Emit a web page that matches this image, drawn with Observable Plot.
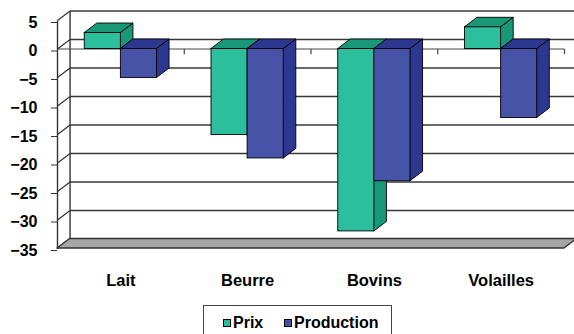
<!DOCTYPE html>
<html><head><meta charset="utf-8">
<script src="https://cdn.jsdelivr.net/npm/d3@7"></script>
<script src="https://cdn.jsdelivr.net/npm/@observablehq/plot@0.6"></script>
<style>
body{margin:0;background:#fff;font-family:"Liberation Sans",Arial,sans-serif;}
#wrap{position:relative;width:574px;height:334px;overflow:hidden;}
#legend{position:absolute;left:203px;top:305px;width:189px;height:40px;border:1px solid #444;box-sizing:border-box;font:bold 16px "Liberation Sans",Arial,sans-serif;color:#000;}
.item{position:absolute;top:8px;height:18px;display:flex;align-items:center;}
.sw{width:6px;height:6px;border:1px solid #000;margin-right:2px;}
</style></head><body><div id="wrap"><div id="chart"></div><div id="legend"></div></div>
<script>
const categories = ["Lait", "Beurre", "Bovins", "Volailles"];
const prix = [2.8, -15.1, -32.0, 3.8];
const production = [-5.1, -19.2, -23.2, -12.1];
const seriesNames = ["Prix", "Production"];
const yTicks = [5, 0, -5, -10, -15, -20, -25, -30, -35];
const colors = {
  Prix: {front: "#2bbf9d", dark: "#199878"},
  Production: {front: "#4653a7", dark: "#2c3790"}
};

const W = 574, H = 300;
const DX = 0.099, DY = 1.67;  // 3D depth in scale units
const BW = 0.285;             // bar width in category units
const yMin = -35, yMax = 5, xMin = -0.5, xMax = 3.5;

const bars = [];
categories.forEach((c, i) => {
  [prix, production].forEach((arr, s) => {
    const v = arr[i];
    const x1 = s === 0 ? i - BW : i;
    bars.push({id: c + s, cat: c, series: seriesNames[s], v, x1, x2: x1 + BW,
      top: Math.max(v, 0), bot: Math.min(v, 0)});
  });
});
const sidePts = bars.flatMap(b => [
  {id: b.id, series: b.series, x: b.x2, y1: b.bot, y2: b.top},
  {id: b.id, series: b.series, x: b.x2 + DX, y1: b.bot + DY, y2: b.top + DY}
]);
const topPts = bars.flatMap(b => [
  {id: b.id, series: b.series, y: b.top, x1: b.x1, x2: b.x2},
  {id: b.id, series: b.series, y: b.top + DY, x1: b.x1 + DX, x2: b.x2 + DX}
]);

const barMarks = seriesNames.flatMap(s => [
  Plot.areaY(sidePts.filter(d => d.series === s), {x: "x", y1: "y1", y2: "y2", z: "id", fill: colors[s].dark, stroke: "#000", strokeWidth: 0.9}),
  Plot.areaX(topPts.filter(d => d.series === s), {y: "y", x1: "x1", x2: "x2", z: "id", fill: colors[s].dark, stroke: "#000", strokeWidth: 0.9}),
  Plot.rect(bars.filter(d => d.series === s), {x1: "x1", x2: "x2", y1: "bot", y2: "top", fill: colors[s].front, stroke: "#000", strokeWidth: 0.9})
]);

const chart = Plot.plot({
  width: W, height: H,
  marginLeft: 57, marginRight: 10, marginTop: 20, marginBottom: 52,
  style: {fontFamily: '"Liberation Sans", Arial, sans-serif', fontSize: "16px", fontWeight: "bold", color: "#000", background: "#fff"},
  x: {domain: [xMin, xMax]},
  y: {domain: [yMin, yMax]},
  marks: [
    // back wall gridlines
    Plot.link(yTicks, {x1: () => xMin + DX, x2: () => xMax + DX, y1: d => d + DY, y2: d => d + DY, stroke: "#383838", strokeWidth: 1.4}),
    // left wall diagonals and edges
    Plot.link(yTicks, {x1: () => xMin, x2: () => xMin + DX, y1: d => d, y2: d => d + DY, stroke: "#333", strokeWidth: 1.2}),
    Plot.link([0], {x1: () => xMin + DX, x2: () => xMin + DX, y1: () => yMin + DY, y2: () => yMax + DY, stroke: "#333", strokeWidth: 1.4}),
    Plot.link([0], {x1: () => xMin, x2: () => xMin, y1: () => yMin, y2: () => yMax, stroke: "#333", strokeWidth: 1.4}),
    // floor
    Plot.areaX([{y: yMin, x1: xMin, x2: xMax}, {y: yMin + DY, x1: xMin + DX, x2: xMax + DX}], {y: "y", x1: "x1", x2: "x2", fill: "#a6a6a6", stroke: "#333", strokeWidth: 1.5}),
    // zero category axis with ticks
    Plot.link([0], {x1: () => xMin, x2: () => xMax, y1: () => 0, y2: () => 0, stroke: "#444", strokeWidth: 1.2}),
    Plot.link([0.5, 1.5, 2.5, 3.5], {x1: d => d, x2: d => d, y1: () => 0, y2: () => -0.9, stroke: "#444", strokeWidth: 1.2}),
    ...barMarks,
    Plot.axisY({ticks: yTicks, tickSize: 6, tickPadding: 14, dy: 2, label: null, stroke: "#333"}),
    Plot.axisX({ticks: [0, 1, 2, 3], tickFormat: i => categories[i], tickSize: 0, tickPadding: 26, label: null, fontSize: 16.5})
  ]
});
document.getElementById("chart").appendChild(chart);

const leg = document.getElementById("legend");
const lefts = [19, 80];
seriesNames.forEach((s, k) => {
  const it = document.createElement("div");
  it.className = "item";
  it.style.left = lefts[k] + "px";
  it.innerHTML = `<span class="sw" style="background:${colors[s].front}"></span><span>${s}</span>`;
  leg.appendChild(it);
});
</script></body></html>
